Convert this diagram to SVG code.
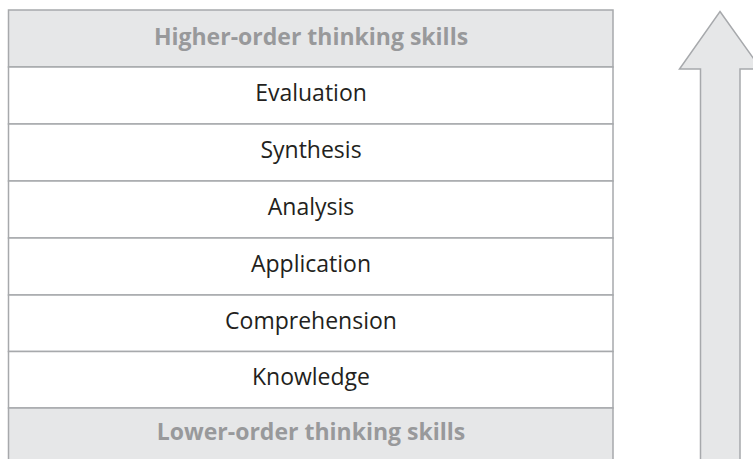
<svg xmlns="http://www.w3.org/2000/svg" width="753" height="459" viewBox="0 0 753 459">
<style>
.hdr{fill:#e6e7e8;stroke:#a7a9ac;stroke-width:1.5}
.row{fill:#ffffff;stroke:#a7a9ac;stroke-width:1.5}
.ht{font-family:"Open Sans","Liberation Sans",sans-serif;font-weight:bold;font-size:23px;fill:#98999b;text-anchor:middle}
.rt{font-family:"Open Sans","Liberation Sans",sans-serif;font-size:23px;fill:#231f20;text-anchor:middle}
</style>
<rect x="0" y="0" width="753" height="459" fill="#ffffff"/>
<g id="higher"><rect class="hdr" x="8.5" y="10" width="604.5" height="57"/><text class="ht" x="311" y="45">Higher-order thinking skills</text></g>
<g id="evaluation"><rect class="row" x="8.5" y="67" width="604.5" height="57"/><text class="rt" x="311" y="101">Evaluation</text></g>
<g id="synthesis"><rect class="row" x="8.5" y="124" width="604.5" height="57"/><text class="rt" x="311" y="158">Synthesis</text></g>
<g id="analysis"><rect class="row" x="8.5" y="181" width="604.5" height="57"/><text class="rt" x="311" y="215">Analysis</text></g>
<g id="application"><rect class="row" x="8.5" y="238" width="604.5" height="57"/><text class="rt" x="311" y="272">Application</text></g>
<g id="comprehension"><rect class="row" x="8.5" y="295" width="604.5" height="56.5"/><text class="rt" x="311" y="328.5">Comprehension</text></g>
<g id="knowledge"><rect class="row" x="8.5" y="351.5" width="604.5" height="56.5"/><text class="rt" x="311" y="385">Knowledge</text></g>
<g id="lower"><rect class="hdr" x="8.5" y="408" width="604.5" height="60"/><text class="ht" x="311" y="440">Lower-order thinking skills</text></g>
<g id="connectors"><polygon class="hdr" points="720,11.5 761,69 740,69 740,470 700.5,470 700.5,69 679.5,69"/></g>
</svg>
